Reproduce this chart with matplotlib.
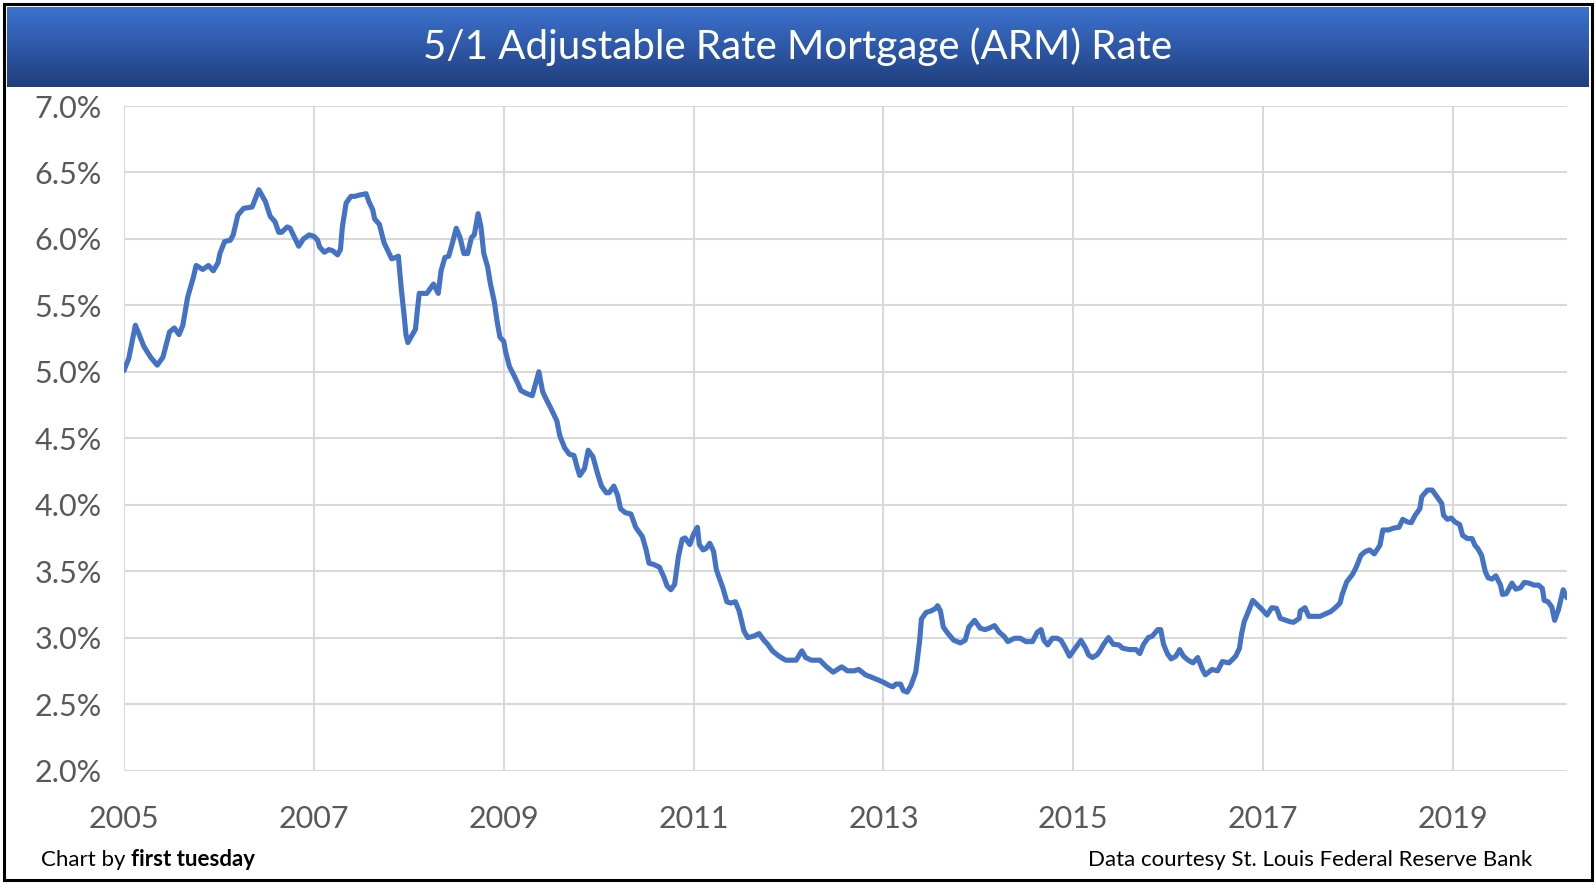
import numpy as np
import matplotlib
matplotlib.use("Agg")
import matplotlib.pyplot as plt
from matplotlib.colors import LinearSegmentedColormap
from matplotlib.patches import Rectangle
from matplotlib.ticker import FuncFormatter, MultipleLocator

# ------------------------------------------
# 5/1 ARM rate
# ------------------------------------------
years = [
    2005.00, 2005.05, 2005.12, 2005.16, 2005.21, 2005.28, 2005.35, 2005.41, 2005.48, 2005.53,
    2005.58, 2005.62, 2005.67, 2005.73, 2005.76, 2005.83, 2005.89, 2005.94, 2005.99,
    2006.01, 2006.06, 2006.12, 2006.15, 2006.20, 2006.26, 2006.35, 2006.42, 2006.49, 2006.54,
    2006.59, 2006.63, 2006.66, 2006.72, 2006.75, 2006.81, 2006.84, 2006.89, 2006.95,
    2007.00, 2007.04, 2007.06, 2007.11, 2007.16, 2007.20, 2007.25, 2007.28, 2007.30, 2007.34,
    2007.39, 2007.43, 2007.48, 2007.55, 2007.58, 2007.62, 2007.64, 2007.69, 2007.74, 2007.78,
    2007.82, 2007.86, 2007.89, 2007.92, 2007.95, 2007.97, 2007.99,
    2008.03, 2008.07, 2008.09, 2008.11, 2008.16, 2008.19, 2008.22, 2008.26, 2008.31, 2008.34,
    2008.38, 2008.42, 2008.46, 2008.50, 2008.54, 2008.58, 2008.62, 2008.66, 2008.69, 2008.73,
    2008.76, 2008.79, 2008.83, 2008.86, 2008.90, 2008.93, 2008.96,
    2009.00, 2009.02, 2009.06, 2009.11, 2009.15, 2009.18, 2009.23, 2009.30, 2009.37, 2009.41,
    2009.45, 2009.50, 2009.56, 2009.59, 2009.64, 2009.69, 2009.74, 2009.77, 2009.80, 2009.85,
    2009.89, 2009.94, 2009.99,
    2010.03, 2010.08, 2010.11, 2010.16, 2010.20, 2010.23, 2010.28, 2010.34, 2010.39, 2010.46,
    2010.50, 2010.53, 2010.58, 2010.64, 2010.69, 2010.72, 2010.76, 2010.80, 2010.84, 2010.88,
    2010.91, 2010.96,
    2011.00, 2011.04, 2011.06, 2011.10, 2011.13, 2011.17, 2011.21, 2011.24, 2011.27, 2011.31,
    2011.35, 2011.39, 2011.44, 2011.48, 2011.53, 2011.57, 2011.63, 2011.69, 2011.74, 2011.78,
    2011.83, 2011.90, 2011.97,
    2012.08, 2012.14, 2012.18, 2012.24, 2012.33, 2012.40, 2012.47, 2012.56, 2012.62, 2012.69,
    2012.74, 2012.81, 2012.88, 2012.95,
    2013.01, 2013.06, 2013.10, 2013.13, 2013.18, 2013.21, 2013.25, 2013.29, 2013.34, 2013.38,
    2013.40, 2013.45, 2013.50, 2013.55, 2013.57, 2013.60, 2013.63, 2013.68, 2013.74, 2013.81,
    2013.86, 2013.90, 2013.96,
    2014.02, 2014.07, 2014.11, 2014.17, 2014.22, 2014.27, 2014.31, 2014.38, 2014.44, 2014.50,
    2014.57, 2014.62, 2014.66, 2014.69, 2014.73, 2014.78, 2014.83, 2014.87, 2014.91, 2014.96,
    2015.02, 2015.08, 2015.13, 2015.16, 2015.20, 2015.25, 2015.28, 2015.32, 2015.37, 2015.42,
    2015.48, 2015.52, 2015.59, 2015.66, 2015.70, 2015.74, 2015.79, 2015.83, 2015.89, 2015.92,
    2015.95, 2015.99,
    2016.03, 2016.08, 2016.12, 2016.16, 2016.21, 2016.26, 2016.31, 2016.36, 2016.39, 2016.46,
    2016.52, 2016.57, 2016.64, 2016.71, 2016.75, 2016.77, 2016.80, 2016.84, 2016.89, 2016.94,
    2016.99,
    2017.04, 2017.09, 2017.14, 2017.18, 2017.24, 2017.28, 2017.32, 2017.38, 2017.39, 2017.44,
    2017.48, 2017.55, 2017.60, 2017.66, 2017.71, 2017.76, 2017.81, 2017.83, 2017.88, 2017.94,
    2017.98,
    2018.03, 2018.07, 2018.12, 2018.17, 2018.23, 2018.26, 2018.32, 2018.38, 2018.43, 2018.47,
    2018.52, 2018.56, 2018.60, 2018.65, 2018.67, 2018.73, 2018.78, 2018.83, 2018.88, 2018.90,
    2018.94, 2018.98,
    2019.02, 2019.07, 2019.10, 2019.15, 2019.20, 2019.23, 2019.26, 2019.30, 2019.34, 2019.37,
    2019.41, 2019.45, 2019.50, 2019.52, 2019.56, 2019.62, 2019.66, 2019.71, 2019.75, 2019.80,
    2019.85, 2019.90, 2019.94, 2019.96,
    2020.00, 2020.04, 2020.07, 2020.11, 2020.16, 2020.20,
]

rates = [
    5.01, 5.10, 5.35, 5.28, 5.19, 5.11, 5.05, 5.11, 5.30, 5.33,
    5.28, 5.35, 5.56, 5.71, 5.80, 5.77, 5.80, 5.76, 5.82,
    5.89, 5.98, 5.99, 6.03, 6.18, 6.23, 6.24, 6.37, 6.28, 6.17,
    6.13, 6.05, 6.05, 6.09, 6.08, 5.99, 5.945, 6.00, 6.03,
    6.02, 5.99, 5.94, 5.90, 5.92, 5.91, 5.88, 5.92, 6.09, 6.27,
    6.32, 6.32, 6.33, 6.34, 6.28, 6.22, 6.15, 6.11, 5.97, 5.91,
    5.85, 5.86, 5.87, 5.63, 5.43, 5.28, 5.22,
    5.27, 5.32, 5.46, 5.59, 5.59, 5.59, 5.62, 5.66, 5.59, 5.76,
    5.86, 5.87, 5.97, 6.08, 6.01, 5.89, 5.89, 6.01, 6.03, 6.19,
    6.09, 5.89, 5.79, 5.66, 5.53, 5.38, 5.26,
    5.23, 5.15, 5.04, 4.97, 4.91, 4.86, 4.84, 4.82, 5.00, 4.85,
    4.79, 4.72, 4.63, 4.52, 4.43, 4.38, 4.37, 4.29, 4.22, 4.27,
    4.41, 4.36, 4.23,
    4.14, 4.09, 4.09, 4.14, 4.07, 3.97, 3.94, 3.93, 3.83, 3.76,
    3.66, 3.56, 3.55, 3.53, 3.45, 3.39, 3.36, 3.40, 3.61, 3.74,
    3.75, 3.70,
    3.78, 3.83, 3.70, 3.66, 3.67, 3.71, 3.65, 3.51, 3.45, 3.37,
    3.27, 3.26, 3.27, 3.20, 3.05, 3.00, 3.01, 3.03, 2.98, 2.95,
    2.90, 2.86, 2.83,
    2.83, 2.90, 2.85, 2.83, 2.83, 2.78, 2.74, 2.78, 2.75, 2.75,
    2.76, 2.72, 2.70, 2.68,
    2.66, 2.64, 2.63, 2.65, 2.65, 2.60, 2.59, 2.64, 2.74, 2.97,
    3.14, 3.19, 3.20, 3.22, 3.24, 3.20, 3.08, 3.03, 2.98, 2.96,
    2.98, 3.08, 3.13,
    3.07, 3.06, 3.07, 3.09, 3.04, 3.01, 2.97, 2.995, 2.995, 2.97,
    2.97, 3.04, 3.06, 2.98, 2.945, 2.995, 2.995, 2.98, 2.93, 2.86,
    2.92, 2.98, 2.92, 2.87, 2.85, 2.87, 2.90, 2.95, 3.00, 2.95,
    2.945, 2.92, 2.91, 2.91, 2.88, 2.95, 3.00, 3.01, 3.06, 3.06,
    2.95, 2.88,
    2.84, 2.86, 2.91, 2.86, 2.83, 2.81, 2.85, 2.76, 2.72, 2.76,
    2.75, 2.82, 2.81, 2.86, 2.92, 3.02, 3.12, 3.19, 3.28, 3.245,
    3.21,
    3.17, 3.225, 3.22, 3.145, 3.13, 3.12, 3.115, 3.145, 3.20, 3.225,
    3.16, 3.16, 3.16, 3.18, 3.195, 3.225, 3.26, 3.32, 3.42, 3.475,
    3.53,
    3.62, 3.645, 3.66, 3.63, 3.695, 3.81, 3.81, 3.825, 3.83, 3.89,
    3.87, 3.865, 3.92, 3.97, 4.06, 4.11, 4.11, 4.06, 4.01, 3.92,
    3.89, 3.90,
    3.87, 3.85, 3.77, 3.745, 3.745, 3.695, 3.67, 3.62, 3.495, 3.45,
    3.44, 3.465, 3.395, 3.325, 3.33, 3.41, 3.365, 3.375, 3.415, 3.41,
    3.395, 3.395, 3.37, 3.28,
    3.27, 3.23, 3.13, 3.21, 3.36, 3.30,
]

x_ticks = [2005, 2007, 2009, 2011, 2013, 2015, 2017, 2019]
title = "5/1 Adjustable Rate Mortgage (ARM) Rate"

FONT = "Lato"
W, H = 1596, 884

fig = plt.figure(figsize=(W / 100, H / 100), dpi=100)
fig.patch.set_facecolor("white")

# title bar with vertical blue gradient
bar = fig.add_axes([7 / W, 1 - 87 / H, (W - 14) / W, 80 / H])
cmap = LinearSegmentedColormap.from_list("bar", ["#3C72CD", "#2E58A8", "#213F7C"])
bar.imshow(np.linspace(0, 1, 100).reshape(-1, 1), cmap=cmap, aspect="auto",
           extent=[0, 1, 0, 1])
bar.set_axis_off()
bar.text(0.5, 0.5, title, color="white", fontsize=29, family=FONT,
         ha="center", va="center", transform=bar.transAxes)

# plot area
ax = fig.add_axes([124 / W, 1 - 770.5 / H, (1567 - 124) / W, (770.5 - 106) / H])
ax.plot(years, rates, color="#4472C4", lw=3.7, solid_joinstyle="round",
        solid_capstyle="round", zorder=3)

ax.set_xlim(2005, years[-1])
ax.set_ylim(2.0, 7.0)
ax.set_xticks(x_ticks)
ax.yaxis.set_major_locator(MultipleLocator(0.5))
ax.yaxis.set_major_formatter(FuncFormatter(lambda v, p: f"{v:.1f}%"))
ax.grid(True, color="#D9D9D9", lw=1.5)
ax.set_axisbelow(True)
for s in ax.spines.values():
    s.set_visible(False)
ax.tick_params(axis="both", length=0, labelsize=22, labelcolor="#595959")
ax.tick_params(axis="y", pad=16)
ax.tick_params(axis="x", pad=25)
for lbl in ax.get_xticklabels() + ax.get_yticklabels():
    lbl.set_family(FONT)

# footer
t1 = fig.text(41 / W, 1 - 860 / H, "Chart by ", fontsize=16, family=FONT,
              color="black", va="center", ha="left")
ax.annotate("first tuesday", xy=(1, 0.5), xycoords=t1, va="center", ha="left",
            fontsize=16, family=FONT, fontweight="bold", color="black")
fig.text(1532 / W, 1 - 860 / H, "Data courtesy St. Louis Federal Reserve Bank",
         fontsize=16, family=FONT, color="black", va="center", ha="right")

# outer frame
fig.patches.append(Rectangle((4 / W, 4 / H), (W - 8) / W, (H - 8) / H,
                             transform=fig.transFigure, fill=False,
                             edgecolor="black", lw=2.2))

fig.savefig("out.png", dpi=100)
